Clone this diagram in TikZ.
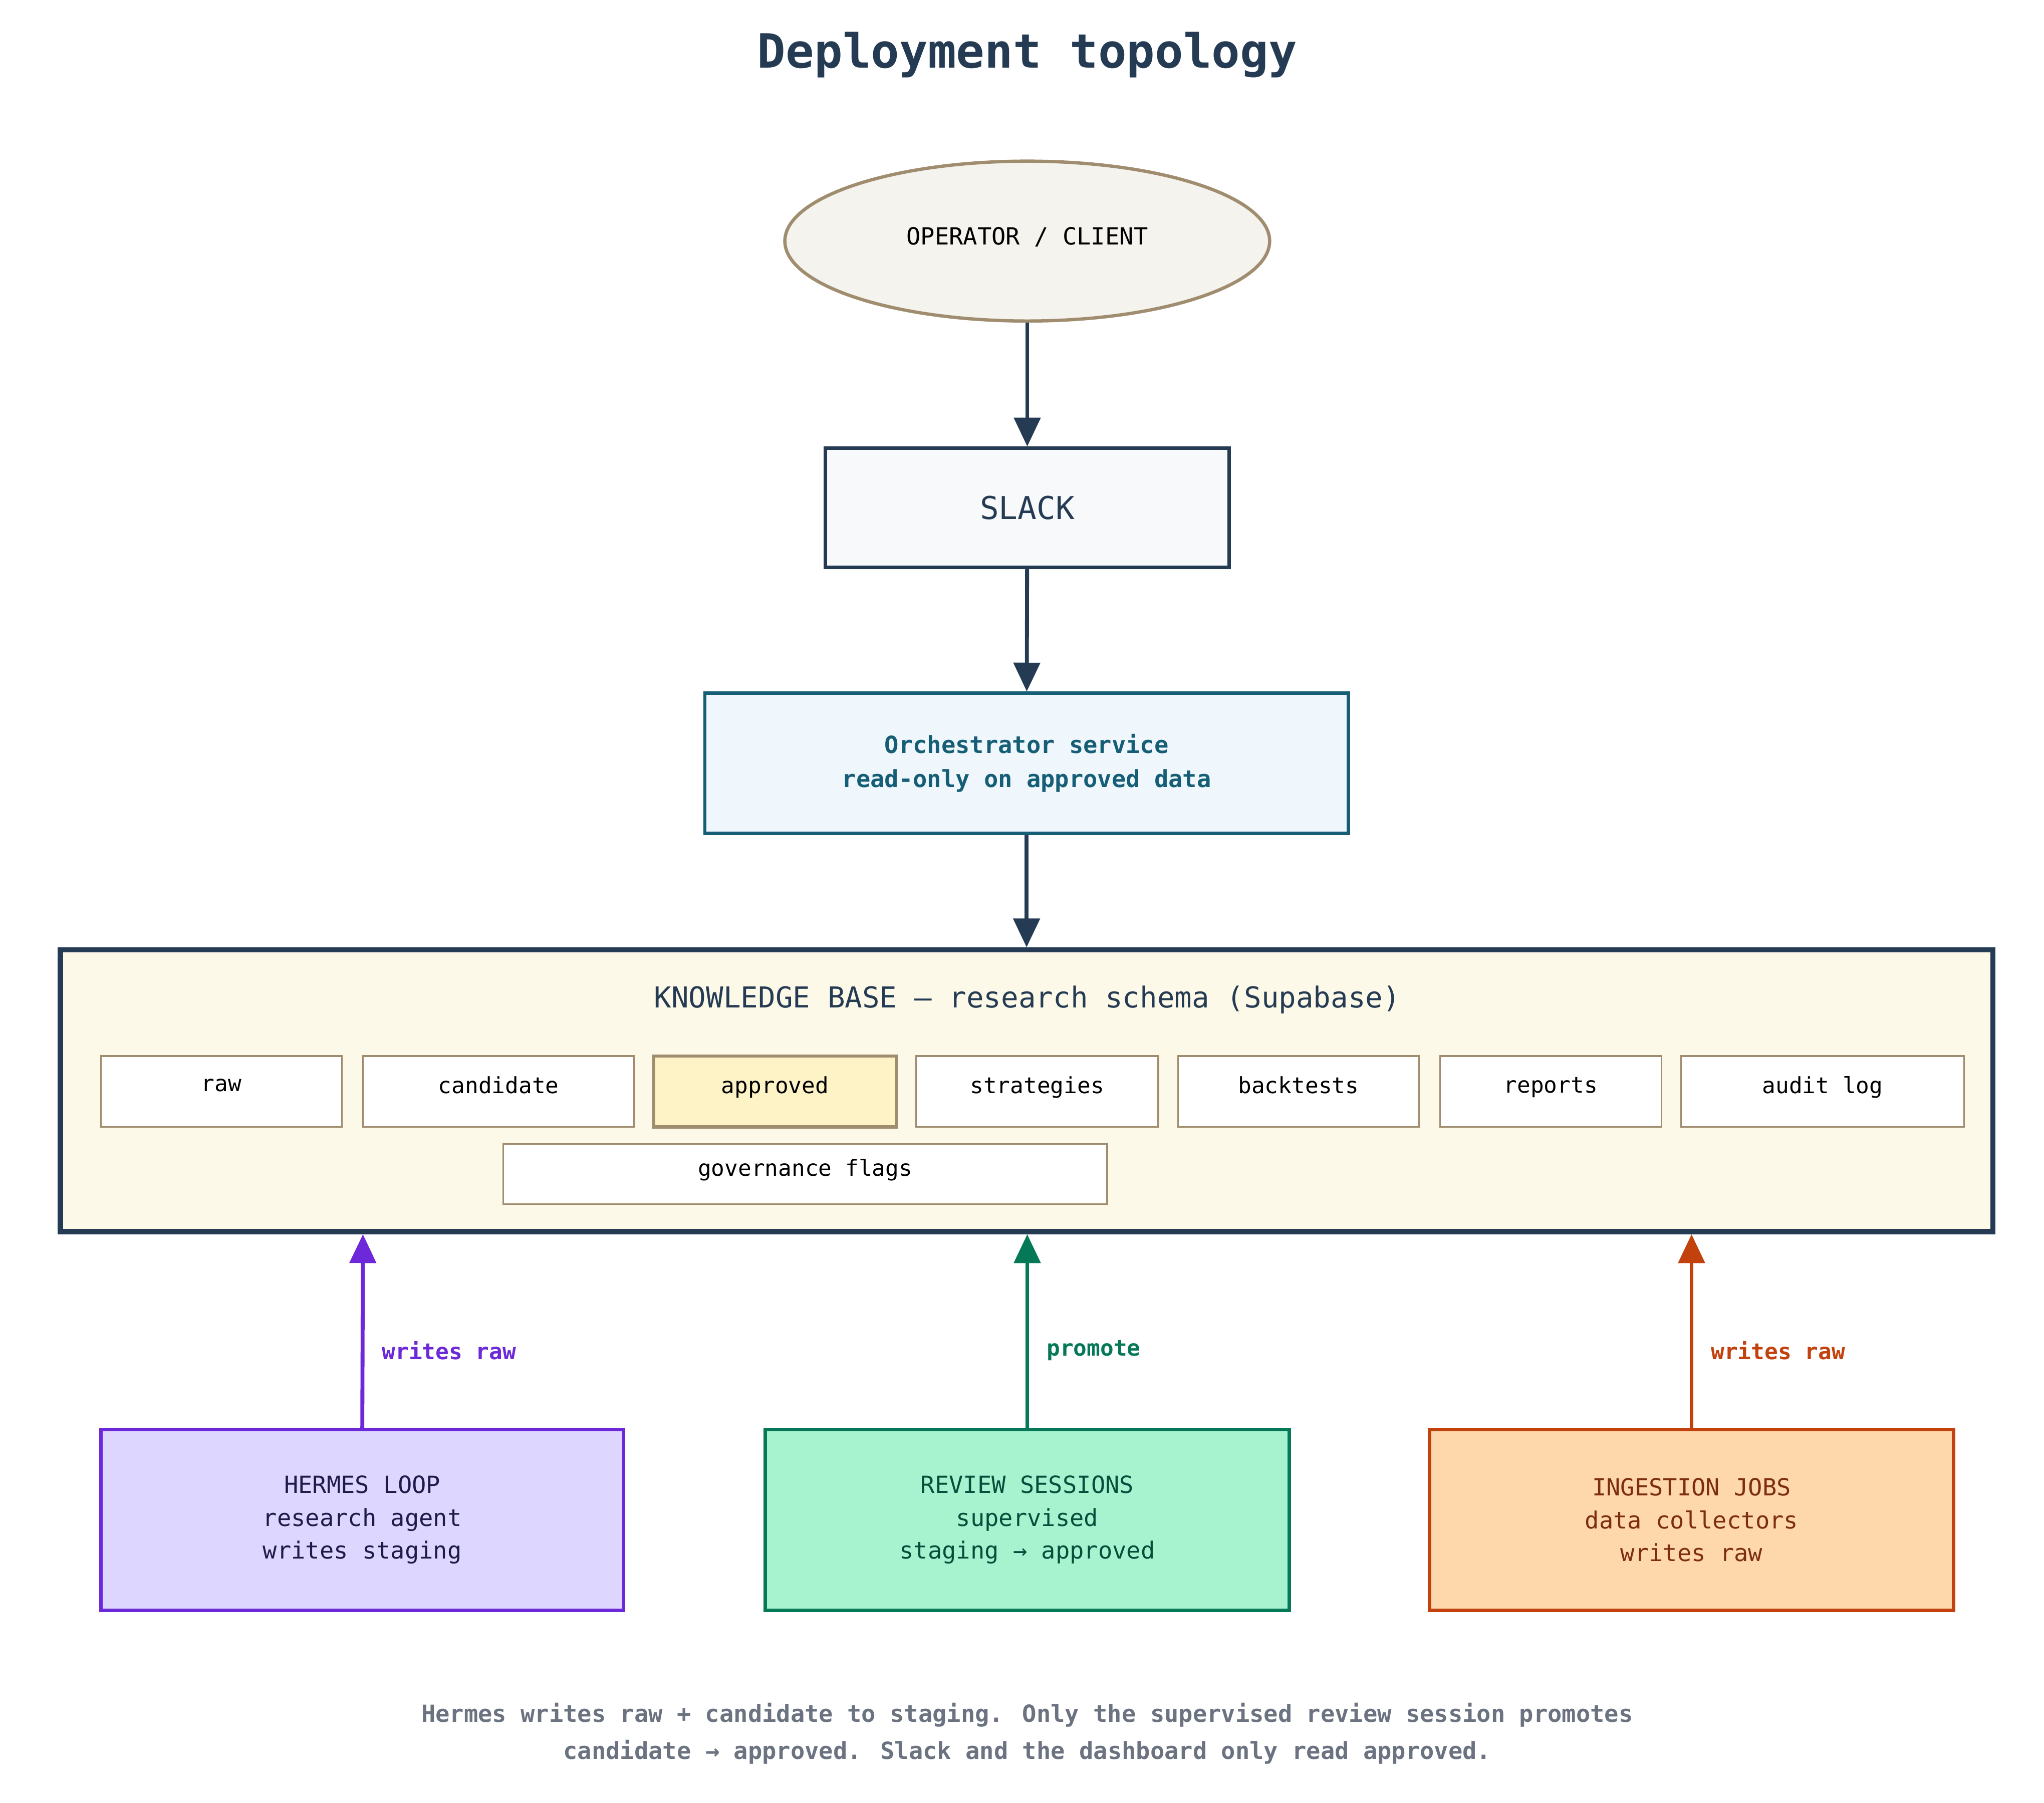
\documentclass[tikz,border=0pt]{standalone}
\usepackage{fontspec}
\setmainfont{DejaVu Sans Mono}
\usetikzlibrary{shapes.geometric,arrows.meta}
\definecolor{navy}{HTML}{243B53}
\definecolor{teal}{HTML}{155E75}
\definecolor{tan}{HTML}{A08C6E}
\definecolor{purp}{HTML}{6D28D9}
\definecolor{grn}{HTML}{047857}
\definecolor{orng}{HTML}{C2410C}
\definecolor{gry}{HTML}{6B7280}
\tikzset{
 box/.style={draw, line width=2.5pt, align=center, inner sep=0pt, font=\fontsize{18}{25}\selectfont},
 item/.style={draw=tan, line width=1.2pt, fill=white, inner sep=0pt, minimum height=54pt, font=\fontsize{17}{20}\selectfont},
 arr/.style={line width=3pt, -{Triangle[length=22pt,width=20pt]}},
 lab/.style={anchor=west, font=\fontsize{17}{20}\selectfont\bfseries}
}
\begin{document}
\begin{tikzpicture}[x=1pt,y=-1pt]
\useasboundingbox (0,0) rectangle (1560,1376);
\node (title) at (784,42) {\fontsize{36}{40}\selectfont\bfseries\color{navy}Deployment topology};
\node[ellipse, draw=tan, fill={rgb,255:red,245;green,243;blue,238}, line width=2.5pt, minimum width=370pt, minimum height=122pt, inner sep=0pt, font=\fontsize{18}{22}\selectfont] (op) at (784,184) {\raisebox{8pt}{OPERATOR / CLIENT}};
\node[box, draw=navy, fill={rgb,255:red,247;green,249;blue,251}, minimum width=308pt, minimum height=91pt, text=navy, font=\fontsize{24}{28}\selectfont] (slack) at (784,387.5) {SLACK};
\node[box, draw=teal, fill={rgb,255:red,239;green,247;blue,253}, minimum width=491pt, minimum height=107pt, text=teal, font=\fontsize{18}{26}\selectfont\bfseries] (orch) at (783.5,582.5) {Orchestrator service\\read-only on approved data};
\node[draw=navy, line width=4pt, fill={rgb,255:red,253;green,249;blue,232}, minimum width=1475pt, minimum height=215pt, inner sep=0pt] (kb) at (783.5,832.5) {};
\node[text=navy, font=\fontsize{22}{26}\selectfont] (kbt) at (784,763) {KNOWLEDGE BASE — research schema (Supabase)};
\node[item, minimum width=184pt] (raw) at (169,833) {\raisebox{10pt}{raw}};
\node[item, minimum width=207pt] (cand) at (380.5,833) {\raisebox{10pt}{candidate}};
\node[item, minimum width=185pt, fill={rgb,255:red,254;green,243;blue,199}, line width=2.5pt] (appr) at (591.5,833) {\raisebox{10pt}{approved}};
\node[item, minimum width=185pt] (strat) at (791.5,833) {\raisebox{10pt}{strategies}};
\node[item, minimum width=184pt] (back) at (991,833) {\raisebox{10pt}{backtests}};
\node[item, minimum width=169pt] (rep) at (1183.5,833) {\raisebox{10pt}{reports}};
\node[item, minimum width=216pt] (audit) at (1391,833) {\raisebox{10pt}{audit log}};
\node[item, minimum width=461pt, minimum height=46pt] (gov) at (614.5,896) {\raisebox{10pt}{governance flags}};
\node[box, draw=purp, fill={rgb,255:red,221;green,214;blue,254}, minimum width=399pt, minimum height=138pt, text={rgb,255:red,30;green,27;blue,75}] (hermes) at (276.5,1160) {HERMES LOOP\\research agent\\writes staging};
\node[box, draw=grn, fill={rgb,255:red,167;green,243;blue,208}, minimum width=400pt, minimum height=138pt, text={rgb,255:red,6;green,78;blue,59}] (review) at (784,1160) {REVIEW SESSIONS\\supervised\\staging → approved};
\node[box, draw=orng, fill={rgb,255:red,254;green,215;blue,170}, minimum width=400pt, minimum height=138pt, text={rgb,255:red,124;green,45;blue,18}] (ing) at (1291,1160) {INGESTION JOBS\\data collectors\\writes raw};
\draw[arr, navy] (op) -- (slack);
\draw[arr, navy] (slack) -- (orch);
\draw[arr, navy] (orch) -- (kb);
\draw[arr, purp] (hermes.north) -- (277,942) node[lab, text=purp, pos=0.4, xshift=10pt] (l1) {writes raw};
\draw[arr, grn] (review.north) -- (784,942) node[lab, text=grn, pos=0.4, xshift=10pt] (l2) {promote};
\draw[arr, orng] (ing.north) -- (1291,942) node[lab, text=orng, pos=0.4, xshift=10pt] (l3) {writes raw};
\node[text=gry, align=center, font=\fontsize{18}{28}\selectfont\bfseries] (foot) at (784,1323) {Hermes writes raw + candidate to staging. Only the supervised review session promotes\\candidate → approved. Slack and the dashboard only read approved.};
\end{tikzpicture}
\end{document}
